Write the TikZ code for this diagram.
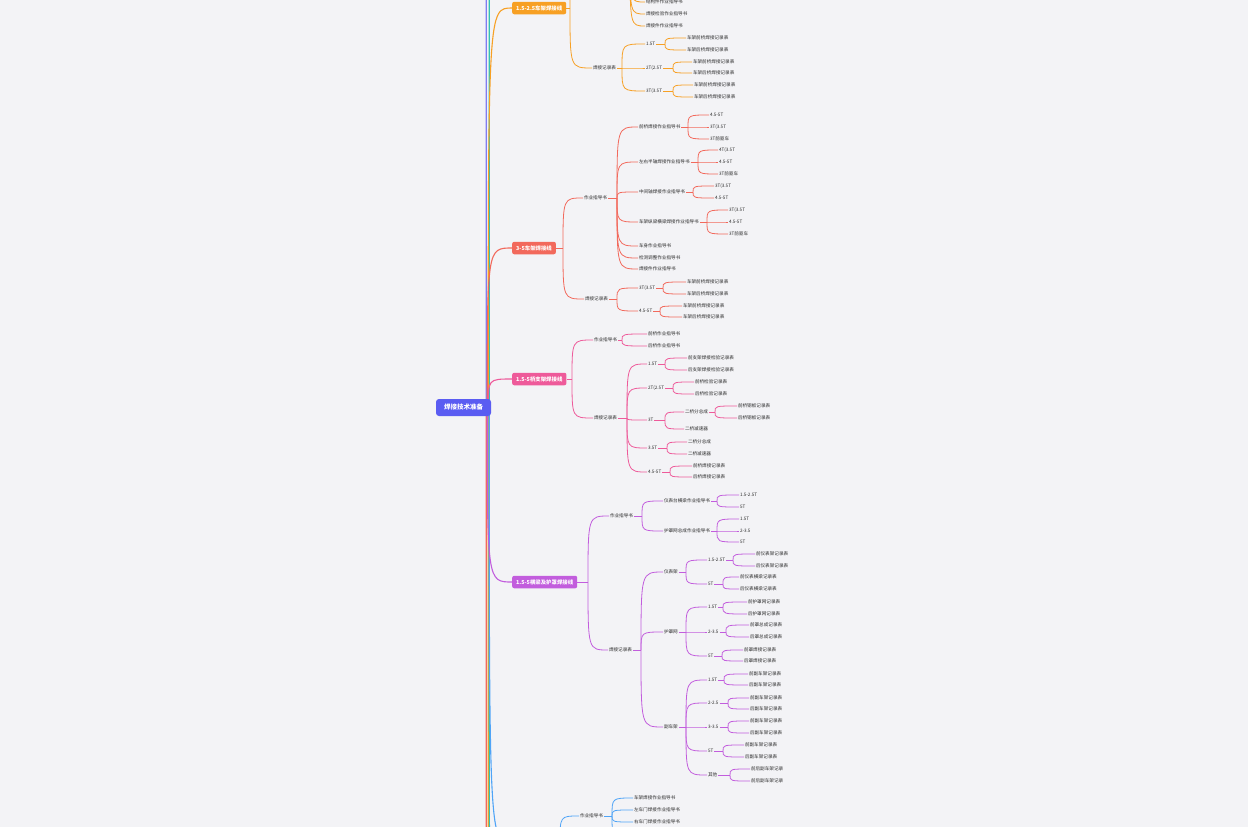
\documentclass[tikz,border=0pt]{standalone}
\usepackage{fontspec}
\setmainfont{Noto Sans CJK SC}
\usetikzlibrary{calc}
\pgfdeclarelayer{bg}
\pgfsetlayers{bg,main}
\definecolor{bgc}{HTML}{F3F3F6}
\definecolor{txt}{HTML}{2C2C2C}
\definecolor{cO}{HTML}{F7A024}
\definecolor{cR}{HTML}{F2695C}
\definecolor{cP}{HTML}{EE5A9A}
\definecolor{cU}{HTML}{C25DDD}
\definecolor{cB}{HTML}{4FA4F7}
\definecolor{cT}{HTML}{33C2B4}
\definecolor{cV}{HTML}{7F7CF2}
\definecolor{rootc}{HTML}{5A5CF2}
\newcommand\fan[3]{\foreach \kk in {#3}{\draw[#1] (#2) .. controls (#2 |- \kk.west) .. (\kk.west);}}
\newcommand\grp[4]{\draw[#1] (#2.east) -- (#3); \fan{#1}{#3}{#4}}
\begin{document}
\begin{tikzpicture}[x=1pt,y=-1pt,
  lf/.style={anchor=west, inner sep=0.8pt, text=txt, font=\fontsize{4.6}{5}\selectfont},
  brbox/.style={anchor=west, rounded corners=2pt, text=white, font=\fontsize{5.4}{6}\selectfont\bfseries, inner xsep=4pt, inner ysep=0pt, minimum height=12.5pt},
  rootbox/.style={rounded corners=3pt, fill=rootc, text=white, font=\fontsize{6.5}{7}\selectfont\bfseries, inner xsep=8pt, inner ysep=0pt, minimum height=17pt},
  hid/.style={anchor=west, inner sep=0pt},
  ln/.style={line width=0.8pt},
  mainln/.style={line width=1.1pt}]
\useasboundingbox (0,0) rectangle (1248,827);
\clip (0,0) rectangle (1248,827);

% ---------------- root ----------------
\node[rootbox] (root) at (463.5,407.5) {焊接技术准备};

% ---------------- orange branch ----------------
\node[brbox, fill=cO] (ob) at (512,8) {1.5-2.5车架焊接线};
\coordinate (obj) at (570,8);
\node[hid] (o1) at (593,-45) {};
\coordinate (o1j) at (630,-45);
\node[lf] (o11) at (645,2) {结构件作业指导书};
\node[lf] (o12) at (645,14) {焊接检验作业指导书};
\node[lf] (o13) at (645,26) {焊接件作业指导书};
\node[lf] (o2) at (592,68) {焊接记录表};
\coordinate (o2j) at (622,68);
\node[lf] (o21) at (645,44) {1.5T};
\node[lf] (o22) at (645,68) {2T(2.5T};
\node[lf] (o23) at (645,91) {3T(3.5T};
\coordinate (o21j) at (665,44);
\coordinate (o22j) at (673,68);
\coordinate (o23j) at (673,91);
\node[lf] (o211) at (686,38) {车架前桥焊接记录表};
\node[lf] (o212) at (686,50) {车架后桥焊接记录表};
\node[lf] (o221) at (692,62) {车架前桥焊接记录表};
\node[lf] (o222) at (692,73) {车架后桥焊接记录表};
\node[lf] (o231) at (693,85) {车架前桥焊接记录表};
\node[lf] (o232) at (693,97) {车架后桥焊接记录表};
\draw[cO,ln] (ob.east) -- (obj);
\fan{cO,ln}{obj}{o1,o2}
\fan{cO,ln}{o1j}{o11,o12,o13}
\grp{cO,ln}{o2}{o2j}{o21,o22,o23}
\grp{cO,ln}{o21}{o21j}{o211,o212}
\grp{cO,ln}{o22}{o22j}{o221,o222}
\grp{cO,ln}{o23}{o23j}{o231,o232}

% ---------------- red branch ----------------
\node[brbox, fill=cR] (rb) at (512,248) {3-5车架焊接线};
\coordinate (rbj) at (563,248);
\node[lf] (r1) at (583,198) {作业指导书};
\coordinate (r1j) at (617,198);
\node[lf] (r11) at (638,127) {前桥焊接作业指导书};
\node[lf] (r12) at (638,162) {左右半轴焊接作业指导书};
\node[lf] (r13) at (638,192) {中间轴焊接作业指导书};
\node[lf] (r14) at (638,222) {车架纵梁横梁焊接作业指导书};
\node[lf] (r15) at (638,246) {车身作业指导书};
\node[lf] (r16) at (638,258) {检测调整作业指导书};
\node[lf] (r17) at (638,269) {焊接件作业指导书};
\coordinate (r11j) at (688,127);
\coordinate (r12j) at (698,162);
\coordinate (r13j) at (693,192);
\coordinate (r14j) at (707,222);
\node[lf] (r111) at (709,115) {4.5-5T};
\node[lf] (r112) at (709,127) {3T(3.5T};
\node[lf] (r113) at (709,139) {3T前驱车};
\node[lf] (r121) at (718,150) {4T(3.5T};
\node[lf] (r122) at (718,162) {4.5-5T};
\node[lf] (r123) at (718,174) {3T前驱车};
\node[lf] (r131) at (714,186) {3T(3.5T};
\node[lf] (r132) at (714,198) {4.5-5T};
\node[lf] (r141) at (728,210) {3T(3.5T};
\node[lf] (r142) at (728,222) {4.5-5T};
\node[lf] (r143) at (728,234) {3T前驱车};
\node[lf] (r2) at (584,299) {焊接记录表};
\coordinate (r2j) at (617,299);
\node[lf] (r21) at (638,288) {3T(3.5T};
\node[lf] (r22) at (638,311) {4.5-5T};
\coordinate (r21j) at (663,288);
\coordinate (r22j) at (660,311);
\node[lf] (r211) at (686,282) {车架前桥焊接记录表};
\node[lf] (r212) at (686,294) {车架后桥焊接记录表};
\node[lf] (r221) at (682,306) {车架前桥焊接记录表};
\node[lf] (r222) at (682,317) {车架后桥焊接记录表};
\draw[cR,ln] (rb.east) -- (rbj);
\fan{cR,ln}{rbj}{r1,r2}
\grp{cR,ln}{r1}{r1j}{r11,r12,r13,r14,r15,r16,r17}
\grp{cR,ln}{r11}{r11j}{r111,r112,r113}
\grp{cR,ln}{r12}{r12j}{r121,r122,r123}
\grp{cR,ln}{r13}{r13j}{r131,r132}
\grp{cR,ln}{r14}{r14j}{r141,r142,r143}
\grp{cR,ln}{r2}{r2j}{r21,r22}
\grp{cR,ln}{r21}{r21j}{r211,r212}
\grp{cR,ln}{r22}{r22j}{r221,r222}

% ---------------- pink branch ----------------
\node[brbox, fill=cP] (pb) at (512,379) {1.5-5桥支架焊接线};
\coordinate (pbj) at (572,379);
\node[lf] (p1) at (593,340) {作业指导书};
\coordinate (p1j) at (622,340);
\node[lf] (p11) at (647,334) {前桥作业指导书};
\node[lf] (p12) at (647,346) {后桥作业指导书};
\node[lf] (p2) at (593,418) {焊接记录表};
\coordinate (p2j) at (627,418);
\node[lf] (p21) at (647,364) {1.5T};
\node[lf] (p22) at (647,388) {2T(2.5T};
\node[lf] (p23) at (647,420) {3T};
\node[lf] (p24) at (647,448) {3.5T};
\node[lf] (p25) at (647,472) {4.5-5T};
\coordinate (p21j) at (665,364);
\coordinate (p22j) at (673,388);
\coordinate (p23j) at (665,420);
\coordinate (p24j) at (667,448);
\coordinate (p25j) at (670,472);
\node[lf] (p211) at (687,358) {前支架焊接检验记录表};
\node[lf] (p212) at (687,370) {后支架焊接检验记录表};
\node[lf] (p221) at (694,382) {前桥检验记录表};
\node[lf] (p222) at (694,394) {后桥检验记录表};
\node[lf] (p231) at (684,412) {二桥分总成};
\node[lf] (p232) at (684,429) {二桥减速器};
\coordinate (p231j) at (715,412);
\node[lf] (p2311) at (737,406) {前桥钢板记录表};
\node[lf] (p2312) at (737,418) {后桥钢板记录表};
\node[lf] (p241) at (687,442) {二桥分总成};
\node[lf] (p242) at (687,454) {二桥减速器};
\node[lf] (p251) at (692,466) {前桥焊接记录表};
\node[lf] (p252) at (692,477) {后桥焊接记录表};
\draw[cP,ln] (pb.east) -- (pbj);
\fan{cP,ln}{pbj}{p1,p2}
\grp{cP,ln}{p1}{p1j}{p11,p12}
\grp{cP,ln}{p2}{p2j}{p21,p22,p23,p24,p25}
\grp{cP,ln}{p21}{p21j}{p211,p212}
\grp{cP,ln}{p22}{p22j}{p221,p222}
\grp{cP,ln}{p23}{p23j}{p231,p232}
\grp{cP,ln}{p231}{p231j}{p2311,p2312}
\grp{cP,ln}{p24}{p24j}{p241,p242}
\grp{cP,ln}{p25}{p25j}{p251,p252}

% ---------------- purple branch ----------------
\node[brbox, fill=cU] (ub) at (512,582) {1.5-5横梁及护罩焊接线};
\coordinate (ubj) at (588,582);
\node[lf] (u1) at (609,516) {作业指导书};
\coordinate (u1j) at (642,516);
\node[lf] (u11) at (663,501) {仪表台横梁作业指导书};
\node[lf] (u12) at (663,531) {护罩网总成作业指导书};
\coordinate (u11j) at (717,501);
\coordinate (u12j) at (717,531);
\node[lf] (u111) at (739,495) {1.5-2.5T};
\node[lf] (u112) at (739,507) {5T};
\node[lf] (u121) at (739,519) {1.5T};
\node[lf] (u122) at (739,531) {2-3.5};
\node[lf] (u123) at (739,542) {5T};
\node[lf] (u2) at (608,650) {焊接记录表};
\coordinate (u2j) at (641,650);
\node[lf] (u21) at (663,572) {仪表架};
\node[lf] (u22) at (663,632) {护罩网};
\node[lf] (u23) at (663,727) {副车架};
\coordinate (u21j) at (686,572);
\coordinate (u22j) at (686,632);
\coordinate (u23j) at (686,727);
\node[lf] (u211) at (707,560) {1.5-2.5T};
\node[lf] (u212) at (707,584) {5T};
\coordinate (u211j) at (733,560);
\coordinate (u212j) at (723,584);
\node[lf] (u2111) at (755,554) {前仪表架记录表};
\node[lf] (u2112) at (755,566) {后仪表架记录表};
\node[lf] (u2121) at (739,577) {前仪表横梁记录表};
\node[lf] (u2122) at (739,589) {后仪表横梁记录表};
\node[lf] (u221) at (707,607) {1.5T};
\node[lf] (u222) at (707,632) {2-3.5};
\node[lf] (u223) at (707,656) {5T};
\coordinate (u221j) at (723,607);
\coordinate (u222j) at (726,632);
\coordinate (u223j) at (722,656);
\node[lf] (u2211) at (747,602) {前护罩网记录表};
\node[lf] (u2212) at (747,614) {后护罩网记录表};
\node[lf] (u2221) at (749,625) {前罩总成记录表};
\node[lf] (u2222) at (749,637) {后罩总成记录表};
\node[lf] (u2231) at (743,650) {前罩焊接记录表};
\node[lf] (u2232) at (743,661) {后罩焊接记录表};
\node[lf] (u231) at (707,680) {1.5T};
\node[lf] (u232) at (707,703) {2-2.5};
\node[lf] (u233) at (707,727) {3-3.5};
\node[lf] (u234) at (707,751) {5T};
\node[lf] (u235) at (707,775) {其他};
\coordinate (u231j) at (724,680);
\coordinate (u232j) at (728,703);
\coordinate (u233j) at (728,727);
\coordinate (u234j) at (723,751);
\coordinate (u235j) at (730,775);
\node[lf] (u2311) at (748,674) {前副车架记录表};
\node[lf] (u2312) at (748,685) {后副车架记录表};
\node[lf] (u2321) at (749,698) {前副车架记录表};
\node[lf] (u2322) at (749,709) {后副车架记录表};
\node[lf] (u2331) at (749,721) {前副车架记录表};
\node[lf] (u2332) at (749,733) {后副车架记录表};
\node[lf] (u2341) at (744,745) {前副车架记录表};
\node[lf] (u2342) at (744,757) {后副车架记录表};
\node[lf] (u2351) at (750,769) {前后副车架记录};
\node[lf] (u2352) at (750,781) {前后副车架记录};
\draw[cU,ln] (ub.east) -- (ubj);
\fan{cU,ln}{ubj}{u1,u2}
\grp{cU,ln}{u1}{u1j}{u11,u12}
\grp{cU,ln}{u11}{u11j}{u111,u112}
\grp{cU,ln}{u12}{u12j}{u121,u122,u123}
\grp{cU,ln}{u2}{u2j}{u21,u22,u23}
\grp{cU,ln}{u21}{u21j}{u211,u212}
\grp{cU,ln}{u211}{u211j}{u2111,u2112}
\grp{cU,ln}{u212}{u212j}{u2121,u2122}
\grp{cU,ln}{u22}{u22j}{u221,u222,u223}
\grp{cU,ln}{u221}{u221j}{u2211,u2212}
\grp{cU,ln}{u222}{u222j}{u2221,u2222}
\grp{cU,ln}{u223}{u223j}{u2231,u2232}
\grp{cU,ln}{u23}{u23j}{u231,u232,u233,u234,u235}
\grp{cU,ln}{u231}{u231j}{u2311,u2312}
\grp{cU,ln}{u232}{u232j}{u2321,u2322}
\grp{cU,ln}{u233}{u233j}{u2331,u2332}
\grp{cU,ln}{u234}{u234j}{u2341,u2342}
\grp{cU,ln}{u235}{u235j}{u2351,u2352}

% ---------------- blue branch (box below the frame) ----------------
\node[hid, minimum width=44pt] (bb) at (512,843) {};
\coordinate (bbj) at (560,843);
\node[lf] (b1) at (579,816) {作业指导书};
\coordinate (b1j) at (612,816);
\node[lf] (b11) at (633,798) {车架焊接作业指导书};
\node[lf] (b12) at (633,810) {左车门焊接作业指导书};
\node[lf] (b13) at (633,822) {右车门焊接作业指导书};
\node[hid] (b14) at (633,836) {};
\draw[cB,ln] (bb.east) -- (bbj);
\fan{cB,ln}{bbj}{b1}
\grp{cB,ln}{b1}{b1j}{b11,b12,b13,b14}

% ---------------- other branches outside the frame ----------------
\node[hid] (xV) at (512,-1200) {};
\node[hid] (xT1) at (512,-700) {};
\node[hid] (xR) at (512,2500) {};
\node[hid] (xO) at (512,2000) {};
\node[hid] (xT2) at (512,1200) {};

% ---------------- root connectors (behind root) ----------------
\begin{pgfonlayer}{bg}
\fill[bgc] (0,0) rectangle (1248,827);
\coordinate (sV) at ($(root.east)+(-5,0)$);
\coordinate (sT) at ($(root.east)+(-2,0)$);
\coordinate (sO) at ($(root.east)+(-3,0)$);
\coordinate (sR) at ($(root.east)+(-4,0)$);
\coordinate (sX) at ($(root.east)+(-5,0)$);
\draw[cV,mainln] (sV) .. controls (sV |- xV.west) .. (xV.west);
\draw[cT,mainln] (sT) .. controls (sT |- xT1.west) .. (xT1.west);
\draw[cR,mainln] (sX) .. controls (sX |- xR.west) .. (xR.west);
\draw[cO,mainln] (sO) .. controls (sO |- xO.west) .. (xO.west);
\draw[cT,mainln] (sT) .. controls (sT |- xT2.west) .. (xT2.west);
\draw[cB,mainln] (sT) .. controls (sT |- bb.west) .. (bb.west);
\draw[cO,mainln] (sO) .. controls (sO |- ob.west) .. (ob.west);
\draw[cR,mainln] (sR) .. controls (sR |- rb.west) .. (rb.west);
\draw[cP,mainln] (sO) .. controls (sO |- pb.west) .. (pb.west);
\draw[cU,mainln] (sR) .. controls (sR |- ub.west) .. (ub.west);
\end{pgfonlayer}
\end{tikzpicture}
\end{document}
